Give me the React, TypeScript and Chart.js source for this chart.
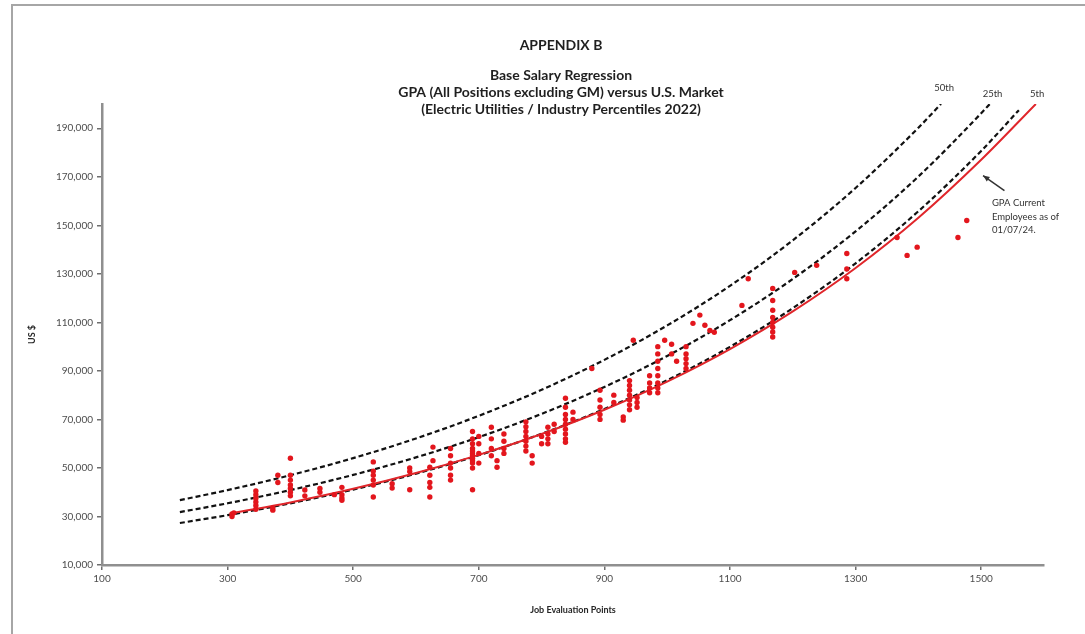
import React, { useEffect, useRef } from "react";
import { Chart, registerables } from "chart.js";

Chart.register(...registerables);

// Axis ticks
const xTicks = [100, 300, 500, 700, 900, 1100, 1300, 1500];
const yTicks = [10000, 30000, 50000, 70000, 90000, 110000, 130000, 150000, 170000, 190000];

// Market percentile curves
const p50X = [224, 300, 400, 500, 600, 700, 800, 900, 1000, 1100, 1200, 1300, 1400, 1436];
const p50Y = [36750, 40870, 47010, 54060, 62160, 71490, 82220, 94550, 108740, 125050, 143820, 165400, 190220, 200050];

const p25X = [224, 300, 400, 500, 600, 700, 800, 900, 1000, 1100, 1200, 1300, 1400, 1500, 1514];
const p25Y = [31800, 35440, 40870, 47140, 54360, 62690, 72300, 83380, 96160, 110900, 127900, 147510, 170110, 196180, 200100];

const p5X = [224, 300, 400, 500, 600, 700, 800, 900, 1000, 1100, 1200, 1300, 1400, 1500, 1560];
const p5Y = [27300, 30550, 35430, 41090, 47650, 55250, 64060, 74300, 86150, 99910, 115860, 134350, 155800, 180670, 197460];

// GPA regression line
const gpaLineX = [309, 400, 500, 600, 700, 800, 900, 1000, 1100, 1200, 1300, 1400, 1500, 1587];
const gpaLineY = [31400, 35800, 41400, 47900, 55400, 64000, 74000, 85600, 99000, 114500, 132400, 153100, 177000, 200000];

// GPA current employees
const empX = [
  307, 307, 310,
  345, 345, 345, 345, 345, 345,
  372, 372,
  380, 380,
  400, 400, 400, 400, 400, 400, 400,
  423, 423,
  447, 447,
  470,
  482, 482, 482, 482,
  532, 532, 532, 532, 532, 532,
  562, 562,
  590, 590, 590,
  622, 622, 622, 622, 622,
  627, 627,
  655, 655, 655, 655, 655, 655,
  690, 690, 690, 690, 690, 690, 690, 690, 690, 690, 690, 690,
  700, 700, 700, 700,
  720, 720, 720, 720,
  729, 729,
  740, 740, 740, 740,
  775, 775, 775, 775, 775, 775, 775,
  785, 785,
  800, 800,
  810, 810, 810, 810,
  820, 820,
  838, 838, 838, 838, 838, 838, 838, 838, 838,
  850, 850,
  880,
  893, 893, 893, 893, 893,
  915, 915,
  930, 930,
  940, 940, 940, 940, 940, 940, 940,
  946,
  952, 952, 952,
  972, 972, 972, 972,
  985, 985, 985, 985, 985, 985, 985, 985,
  996,
  1007, 1007,
  1015,
  1030, 1030, 1030, 1030, 1030,
  1041, 1052, 1060, 1068, 1075,
  1119, 1129,
  1168, 1168, 1168, 1168, 1168, 1168, 1168, 1168,
  1203, 1238,
  1286, 1286, 1286,
  1366, 1382, 1398, 1463, 1477,
];
const empY = [
  30000, 31000, 31500,
  33000, 34500, 36000, 37500, 39000, 40500,
  32600, 33500,
  47000, 44000,
  54000, 47000, 45000, 43000, 41500, 40000, 38500,
  40900, 38500,
  40000, 41500,
  39000,
  42000, 39000, 36700, 37600,
  52500, 48700, 47000, 45000, 43000, 38000,
  41700, 43500,
  50000, 48500, 41000,
  50300, 47000, 44000, 42000, 38000,
  58600, 53000,
  58000, 55000, 52000, 50000, 47000, 45000,
  65000, 62000, 60000, 58000, 57000, 56000, 55000, 54000, 53000, 52000, 50000, 41000,
  63000, 60000, 56000, 52000,
  66800, 62000, 58000, 55000,
  50300, 53000,
  64000, 61000, 58000, 56000,
  69000, 67000, 65000, 63000, 61000, 59000, 57000,
  55000, 52000,
  60000, 63000,
  66800, 64000, 62000, 60000,
  65000, 68000,
  78700, 75000, 72000, 70000, 68000, 66000, 64000, 62000, 60600,
  70000, 73000,
  91000,
  82000, 78000, 75000, 72000, 70000,
  80000, 77000,
  69700, 71000,
  86000, 84000, 82000, 80000, 78000, 76000, 74000,
  102600,
  79000, 77000, 75000,
  88000, 85000, 83000, 81000,
  100000, 97000, 94000, 91000, 88000, 85000, 83000, 81000,
  102600,
  101000, 97000,
  94000,
  100000, 97000, 95000, 93000, 91000,
  109600, 113000, 108800, 106700, 105900,
  117000, 128000,
  124000, 119000, 115000, 112000, 110000, 108000, 106000, 104000,
  130600, 133500,
  138400, 132000, 128000,
  145000, 137600, 141000, 145000, 152000,
];

const titleLines = [
  "APPENDIX B",
  "Base Salary Regression",
  "GPA (All Positions excluding GM) versus U.S. Market",
  "(Electric Utilities / Industry Percentiles 2022)",
];
const noteLines = ["GPA Current", "Employees as of", "01/07/24."];

const pts = (xs: number[], ys: number[]) => xs.map((x, i) => ({ x, y: ys[i] }));

const FONT = "Lato, 'Open Sans', sans-serif";
const RED = "#e3161d";

const textPlugin = {
  id: "texts",
  afterDraw(chart: any) {
    const ctx = chart.ctx as CanvasRenderingContext2D;
    const xs = chart.scales.x;
    const ys = chart.scales.y;
    ctx.save();
    // outer frame
    ctx.strokeStyle = "#a6a6a6";
    ctx.lineWidth = 2;
    ctx.beginPath();
    ctx.moveTo(12, 700);
    ctx.lineTo(12, 5);
    ctx.lineTo(1100, 5);
    ctx.stroke();

    // titles
    ctx.fillStyle = "#1f1f1f";
    ctx.textAlign = "center";
    ctx.textBaseline = "middle";
    ctx.font = `bold 14px ${FONT}`;
    const cx = 561;
    ctx.fillText(titleLines[0], cx, 45);
    ctx.fillText(titleLines[1], cx, 75);
    ctx.fillText(titleLines[2], cx, 92);
    ctx.fillText(titleLines[3], cx, 109);

    // percentile labels
    ctx.font = `9.5px ${FONT}`;
    ctx.fillStyle = "#333333";
    ctx.fillText("50th", xs.getPixelForValue(1441), ys.getPixelForValue(206700));
    ctx.fillText("25th", xs.getPixelForValue(1518), ys.getPixelForValue(204200));
    ctx.fillText("5th", xs.getPixelForValue(1589), ys.getPixelForValue(204200));

    // note
    ctx.textAlign = "left";
    ctx.font = `9.5px ${FONT}`;
    const nx = xs.getPixelForValue(1517);
    ctx.fillText(noteLines[0], nx, ys.getPixelForValue(159300));
    ctx.fillText(noteLines[1], nx, ys.getPixelForValue(153600));
    ctx.fillText(noteLines[2], nx, ys.getPixelForValue(148000));

    // arrow
    const ax0 = xs.getPixelForValue(1537), ay0 = ys.getPixelForValue(164300);
    const ax1 = xs.getPixelForValue(1503), ay1 = ys.getPixelForValue(170500);
    ctx.strokeStyle = "#333333";
    ctx.fillStyle = "#333333";
    ctx.lineWidth = 1.5;
    ctx.beginPath();
    ctx.moveTo(ax0, ay0);
    ctx.lineTo(ax1, ay1);
    ctx.stroke();
    const ang = Math.atan2(ay1 - ay0, ax1 - ax0);
    ctx.beginPath();
    ctx.moveTo(ax1, ay1);
    ctx.lineTo(ax1 - 7 * Math.cos(ang - 0.4), ay1 - 7 * Math.sin(ang - 0.4));
    ctx.lineTo(ax1 - 7 * Math.cos(ang + 0.4), ay1 - 7 * Math.sin(ang + 0.4));
    ctx.closePath();
    ctx.fill();
    ctx.restore();
  },
};

export default function App() {
  const ref = useRef<HTMLCanvasElement | null>(null);
  useEffect(() => {
    document.body.style.margin = "0";
    const canvas = ref.current!;
    const dashed = (data: any) => ({
      data,
      showLine: true,
      borderColor: "#111111",
      borderWidth: 2.2,
      borderDash: [5, 3],
      pointRadius: 0,
      cubicInterpolationMode: "monotone" as const,
      fill: false,
    });
    const chart = new Chart(canvas, {
      type: "scatter",
      data: {
        datasets: [
          {
            data: pts(empX, empY),
            backgroundColor: RED,
            borderColor: RED,
            pointRadius: 2.7,
            pointBorderWidth: 0,
            showLine: false,
            order: 0,
          },
          {
            data: pts(gpaLineX, gpaLineY),
            showLine: true,
            borderColor: "#e0262b",
            borderWidth: 2,
            pointRadius: 0,
            cubicInterpolationMode: "monotone",
            order: 1,
          },
          { ...dashed(pts(p5X, p5Y)), order: 2 },
          { ...dashed(pts(p25X, p25Y)), order: 2 },
          { ...dashed(pts(p50X, p50Y)), order: 2 },
        ],
      },
      options: {
        animation: false,
        responsive: false,
        layout: { padding: { top: 104, right: 41, bottom: 0, left: 0 } },
        plugins: { legend: { display: false }, tooltip: { enabled: false }, title: { display: false } },
        scales: {
          x: {
            type: "linear",
            min: 100,
            max: 1600,
            afterBuildTicks: (s: any) => {
              s.ticks = xTicks.map((v) => ({ value: v }));
            },
            afterFit: (s: any) => {
              s.height = 69;
            },
            grid: { drawOnChartArea: false, drawTicks: true, tickLength: 5, color: "#6e6e6e", lineWidth: 1.5 },
            border: { display: true, color: "#8f8f8f", width: 2.5 },
            ticks: {
              color: "#4d4d4d",
              font: { family: FONT, size: 10 },
              padding: 3,
              maxRotation: 0,
              callback: (v: any) => String(v),
            },
            title: {
              display: true,
              text: "Job Evaluation Points",
              color: "#262626",
              font: { family: FONT, size: 9, weight: "bold" },
              padding: { top: 0, bottom: 19 },
            },
          },
          y: {
            type: "linear",
            min: 10000,
            max: 200000,
            afterBuildTicks: (s: any) => {
              s.ticks = yTicks.map((v) => ({ value: v }));
            },
            afterFit: (s: any) => {
              s.width = 102;
            },
            grid: { drawOnChartArea: false, drawTicks: true, tickLength: 5, color: "#6e6e6e", lineWidth: 1.5 },
            border: { display: true, color: "#8f8f8f", width: 2.5 },
            ticks: {
              color: "#4d4d4d",
              font: { family: FONT, size: 10 },
              padding: 4,
              callback: (v: any) => Number(v).toLocaleString("en-US"),
            },
            title: {
              display: true,
              text: "US $",
              color: "#262626",
              font: { family: FONT, size: 9, weight: "bold" },
              padding: { top: 27, bottom: 0 },
            },
          },
        },
      },
      plugins: [textPlugin],
    });
    return () => chart.destroy();
  }, []);
  return (
    <div style={{ position: "absolute", left: 0, top: 0, width: 1085, height: 634, background: "#ffffff" }}>
      <canvas ref={ref} width={1085} height={634} style={{ display: "block", width: 1085, height: 634 }} />
    </div>
  );
}
